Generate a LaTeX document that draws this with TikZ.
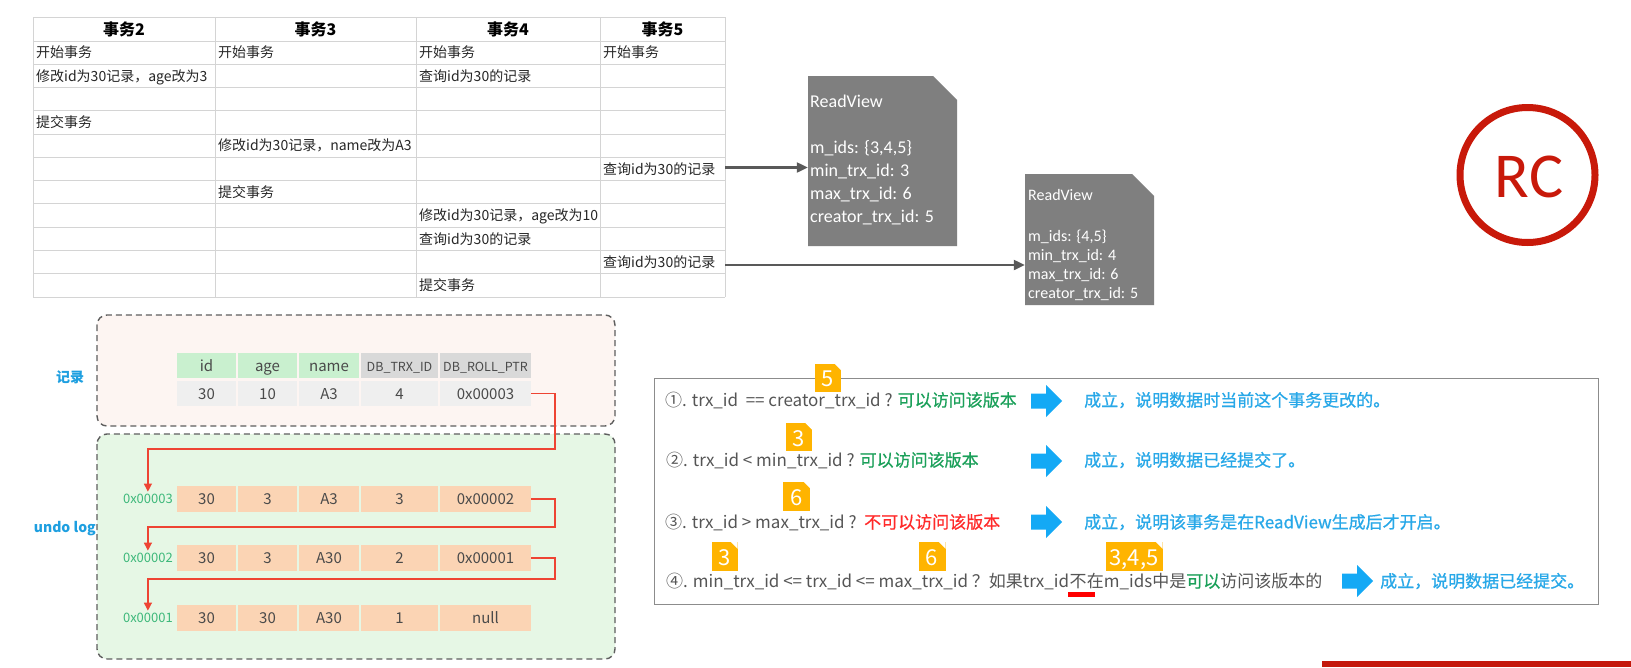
\documentclass[tikz,border=0pt]{standalone}
\usepackage{fontspec}
\setmainfont{Noto Sans CJK SC}
\newfontfamily\medfont[FakeBold=0.7]{Noto Sans CJK SC}
\newfontfamily\calfont{Carlito}
\usetikzlibrary{arrows.meta}
\definecolor{gridgray}{HTML}{D4D4D4}
\definecolor{arrgray}{HTML}{595959}
\definecolor{rvgray}{HTML}{7F7F7F}
\definecolor{rcred}{HTML}{C8190A}
\definecolor{pinkfill}{HTML}{FDF5F2}
\definecolor{mintfill}{HTML}{E6F7E5}
\definecolor{dashgray}{HTML}{5E5E5E}
\definecolor{hdrgreen}{HTML}{C9F0CF}
\definecolor{hdrgray}{HTML}{D9D9D9}
\definecolor{datagray}{HTML}{EFEFEF}
\definecolor{peach}{HTML}{FBD4B4}
\definecolor{celltext}{HTML}{4A4A4A}
\definecolor{labgreen}{HTML}{3DB87A}
\definecolor{linkred}{HTML}{EE4433}
\definecolor{lblblue}{HTML}{1E9FE0}
\definecolor{ruleborder}{HTML}{8C8C8C}
\definecolor{ruletext}{HTML}{555555}
\definecolor{okgreen}{HTML}{1BA05A}
\definecolor{nored}{HTML}{FF2A2A}
\definecolor{arrowblue}{HTML}{14A9F5}
\definecolor{resblue}{HTML}{28A8E8}
\definecolor{badgeamber}{HTML}{FFB400}
\definecolor{barred}{HTML}{C4180C}
\begin{document}
\begin{tikzpicture}[x=1pt,y=-1pt,
  tcell/.style={anchor=west,inner sep=0pt,text height=11.9pt,text depth=1.4pt,font=\fontsize{14}{16}\selectfont,text=black!85},
  thead/.style={inner sep=0pt,text height=13.6pt,text depth=1.6pt,font=\fontsize{16}{18}\selectfont\bfseries,text=black},
  rvbig/.style={anchor=base west,inner sep=0pt,text=white,font=\calfont\fontsize{18}{22}\selectfont},
  rvsmall/.style={anchor=base west,inner sep=0pt,text=white,font=\calfont\fontsize{16}{19}\selectfont},
  linkarrow/.style={draw=arrgray,line width=2.2pt,-{Triangle[length=11pt,width=10pt]}},
  dashbox/.style={draw=dashgray,line width=1.4pt,dash pattern=on 6pt off 4pt,rounded corners=10pt},
  rcell/.style={inner sep=0pt,minimum height=25pt,text height=12.75pt,text depth=1.5pt,font=\fontsize{15}{17}\selectfont,text=celltext},
  smallhdr/.style={font=\fontsize{12.5}{14}\selectfont},
  addr/.style={anchor=east,inner sep=1pt,text height=11.05pt,text depth=1.3pt,font=\fontsize{13}{15}\selectfont,text=labgreen},
  link/.style={draw=linkred,line width=1.2pt,-{Triangle[length=8pt,width=8pt]}},
  sidelbl/.style={inner sep=0pt,text height=11.9pt,text depth=1.4pt,font=\fontsize{14}{16}\selectfont\bfseries,text=lblblue},
  ruleline/.style={anchor=west,inner sep=0pt,text height=14.45pt,text depth=1.7pt,font=\fontsize{17}{20}\selectfont,text=ruletext},
  result/.style={anchor=west,inner sep=0pt,text height=14.45pt,text depth=1.7pt,font=\medfont\fontsize{17}{20}\selectfont,text=resblue},
  badge/.style={fill=badgeamber,inner sep=0pt,text height=18.4pt,text depth=0pt,font=\fontsize{22}{24}\selectfont,text=white},
  blockarr/.pic={\fill[arrowblue] (0,-7.5) -- (15,-7.5) -- (15,-16) -- (31,0) -- (15,16) -- (15,7.5) -- (0,7.5) -- cycle;}
]
\useasboundingbox (0,0) rectangle (1631,667);
\fill[white] (0,0) rectangle (1631,667);

% ---------- transaction table ----------
\foreach \xx in {33,215,416,600,725} \draw[gridgray,line width=0.8pt] (\xx,17) -- (\xx,297);
\draw[gridgray,line width=0.8pt] (33,17) -- (725,17);
\foreach \k in {0,...,11} \draw[gridgray,line width=0.8pt] (33,41+\k*23.27) -- (725,41+\k*23.27);
\node[thead] (h2) at (124,29) {事务2};
\node[thead] (h3) at (315.5,29) {事务3};
\node[thead] (h4) at (508,29) {事务4};
\node[thead] (h5) at (662.5,29) {事务5};
\node[tcell] (c11) at (36,52.6) {开始事务};
\node[tcell] (c12) at (218,52.6) {开始事务};
\node[tcell] (c13) at (419,52.6) {开始事务};
\node[tcell] (c14) at (603,52.6) {开始事务};
\node[tcell] (c21) at (36,75.9) {修改id为30记录，age改为3};
\node[tcell] (c23) at (419,75.9) {查询id为30的记录};
\node[tcell] (c41) at (36,122.4) {提交事务};
\node[tcell] (c52) at (218,145.7) {修改id为30记录，name改为A3};
\node[tcell] (c64) at (603,169) {查询id为30的记录};
\node[tcell] (c72) at (218,192.3) {提交事务};
\node[tcell] (c83) at (419,215.5) {修改id为30记录，age改为10};
\node[tcell] (c93) at (419,238.8) {查询id为30的记录};
\node[tcell] (c104) at (603,262.1) {查询id为30的记录};
\node[tcell] (c113) at (419,285.4) {提交事务};
\coordinate (t6e) at (725,167.5);
\coordinate (t10e) at (725,265);

% ---------- ReadView boxes ----------
\fill[rvgray] (808,76) -- (933,76) -- (957,100) -- (957,246) -- (808,246) -- cycle;
\node[inner sep=0pt,minimum width=149pt,minimum height=170pt] (rv1) at (882.5,161) {};
\node[rvbig] (rv1a) at (810,107) {ReadView};
\node[rvbig] (rv1b) at (810,153) {m\_ids: \{3,4,5\}};
\node[rvbig] (rv1c) at (810,176) {min\_trx\_id: 3};
\node[rvbig] (rv1d) at (810,199) {max\_trx\_id: 6};
\node[rvbig] (rv1e) at (810,222) {creator\_trx\_id: 5};

\fill[rvgray] (1025,174) -- (1132,174) -- (1154,196) -- (1154,305) -- (1025,305) -- cycle;
\node[inner sep=0pt,minimum width=129pt,minimum height=131pt] (rv2) at (1089.5,239.5) {};
\node[rvsmall] (rv2a) at (1028,200) {ReadView};
\node[rvsmall] (rv2b) at (1028,241) {m\_ids: \{4,5\}};
\node[rvsmall] (rv2c) at (1028,260) {min\_trx\_id: 4};
\node[rvsmall] (rv2d) at (1028,279) {max\_trx\_id: 6};
\node[rvsmall] (rv2e) at (1028,298) {creator\_trx\_id: 5};

\draw[linkarrow] (t6e) -- (t6e -| rv1.west);
\draw[linkarrow] (t10e) -- (t10e -| rv2.west);

% ---------- RC ----------
\draw[rcred,line width=7pt] (1527.5,175) circle[radius=67.5pt];
\node[inner sep=0pt,text=rcred,font=\calfont\fontsize{64}{70}\selectfont] (rc) at (1529,177) {RC};

% ---------- record / undo log ----------
\node[sidelbl,anchor=east] (undolbl) at (96,527) {undo log};
\node[sidelbl] (reclbl) at (70,377.5) {记录};
\draw[dashbox,fill=pinkfill] (97,315) rectangle (615,426);
\draw[dashbox,fill=mintfill] (97,434) rectangle (615,659);

\foreach \cx/\cw/\cf/\txt [count=\k] in {206.5/59/hdrgreen/id,267.5/59/hdrgreen/age,329/60/hdrgreen/name}
  \node[rcell,fill=\cf,minimum width=\cw pt] (rh\k) at (\cx,365.5) {\txt};
\node[rcell,smallhdr,fill=hdrgray,minimum width=77pt] (rh4) at (399.5,365.5) {DB\_TRX\_ID};
\node[rcell,smallhdr,fill=hdrgray,minimum width=91pt] (rh5) at (485.5,365.5) {DB\_ROLL\_PTR};
\foreach \cx/\cw/\txt [count=\k] in {206.5/59/30,267.5/59/10,329/60/A3,399.5/77/4,485.5/91/0x00003}
  \node[rcell,fill=datagray,minimum width=\cw pt] (rd\k) at (\cx,393.5) {\txt};
\foreach \cx/\cw/\txt [count=\k] in {206.5/59/30,267.5/59/3,329/60/A3,399.5/77/3,485.5/91/0x00002}
  \node[rcell,fill=peach,minimum width=\cw pt,minimum height=26pt] (ua\k) at (\cx,499) {\txt};
\foreach \cx/\cw/\txt [count=\k] in {206.5/59/30,267.5/59/3,329/60/A30,399.5/77/2,485.5/91/0x00001}
  \node[rcell,fill=peach,minimum width=\cw pt,minimum height=26pt] (ub\k) at (\cx,558) {\txt};
\foreach \cx/\cw/\txt [count=\k] in {206.5/59/30,267.5/59/30,329/60/A30,399.5/77/1,485.5/91/null}
  \node[rcell,fill=peach,minimum width=\cw pt,minimum height=26pt] (uc\k) at (\cx,618) {\txt};
\node[addr] (la) at (174,499) {0x00003};
\node[addr] (lb) at (174,558) {0x00002};
\node[addr] (lc) at (174,618) {0x00001};

\coordinate (j1) at (555,449);
\coordinate (j2) at (555,527);
\coordinate (j3) at (555,579);
\draw[link] (rd5.east) -| (j1) -| (la.north);
\draw[link] (ua5.east) -| (j2) -| (lb.north);
\draw[link] (ub5.east) -| (j3) -| (lc.north);

% ---------- rules box ----------
\draw[ruleborder,line width=1pt] (654,378) rectangle (1598,604);
\node[ruleline] (r1) at (665,400) {①. trx\_id\ \ == creator\_trx\_id ? \textcolor{okgreen}{\medfont 可以访问该版本}};
\node[ruleline] (r2) at (666,460) {②. trx\_id < min\_trx\_id ? \textcolor{okgreen}{\medfont 可以访问该版本}};
\node[ruleline] (r3) at (665,522) {③. trx\_id > max\_trx\_id ?\ \ \textcolor{nored}{\medfont 不可以访问该版本}};
\node[ruleline] (r4a) at (666,581) {④. min\_trx\_id <= trx\_id <= max\_trx\_id ？如果trx\_id};
\node[ruleline] (r4b) at (r4a.east) {不};
\node[ruleline] (r4c) at (r4b.east) {在m\_ids中是\textcolor{okgreen}{\medfont 可以}访问该版本的};
\node[fill=red,inner sep=0pt,minimum width=27pt,minimum height=5pt,anchor=north west] (ul) at ([xshift=-2pt,yshift=-3pt]r4b.south west) {};

\pic at (1031,401) {blockarr};
\pic at (1031,461) {blockarr};
\pic at (1031,522) {blockarr};
\pic at (1342,581) {blockarr};

\node[result] (s1) at (1084,400) {成立，说明数据时当前这个事务更改的。};
\node[result] (s2) at (1084,460) {成立，说明数据已经提交了。};
\node[result] (s3) at (1084,522) {成立，说明该事务是在ReadView生成后才开启。};
\node[result] (s4) at (1380,581) {成立，说明数据已经提交。};

\node[badge,minimum width=26pt,minimum height=28pt] (b1) at (828,377.5) {5};
\node[badge,minimum width=26pt,minimum height=28pt] (b2) at (799,437) {3};
\node[badge,minimum width=27pt,minimum height=29pt] (b3) at (796.5,496) {6};
\node[badge,minimum width=26pt,minimum height=29pt] (b4) at (724.5,556.5) {3};
\node[badge,minimum width=27pt,minimum height=29pt] (b5) at (932,556.5) {6};
\node[badge,minimum width=57pt,minimum height=29pt] (b6) at (1134,556.5) {3,4,5};
\foreach \b in {b1,b2,b3,b4,b5,b6}
  \fill[white] ([xshift=-7pt]\b.north east) -- (\b.north east) -- ([yshift=-7pt]\b.north east) -- cycle;

% ---------- corner bar ----------
\fill[barred] (1322,661) rectangle (1631,667);
\end{tikzpicture}
\end{document}
